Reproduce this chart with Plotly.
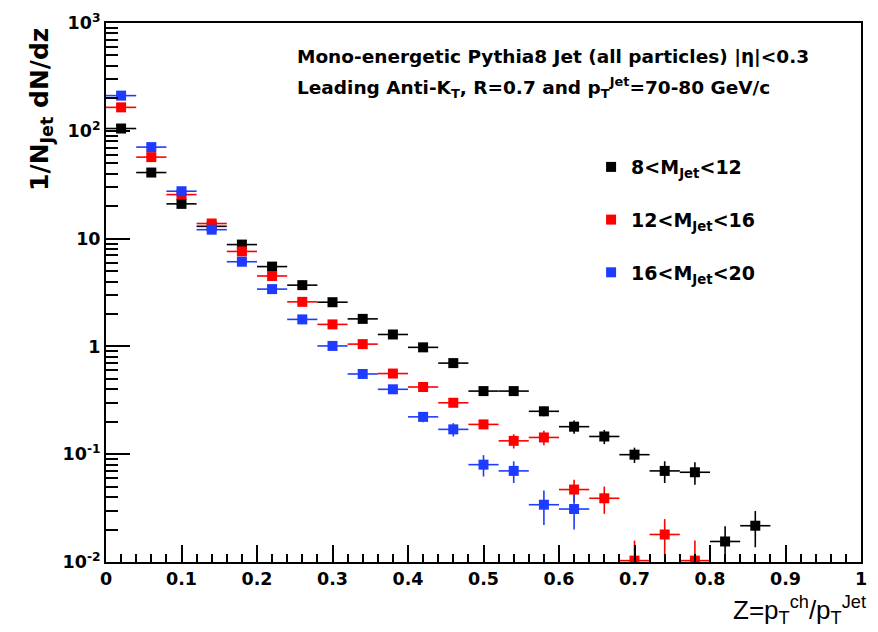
import plotly.graph_objects as go

# Fragmentation function z = pT(ch)/pT(jet), bins of width 0.04 (centres listed)
z_black = [0.02, 0.06, 0.10, 0.14, 0.18, 0.22, 0.26, 0.30, 0.34, 0.38, 0.42,
           0.46, 0.50, 0.54, 0.58, 0.62, 0.66, 0.70, 0.74, 0.78, 0.82, 0.86]
y_black = [105, 41, 21, 13, 8.8, 5.5, 3.7, 2.57, 1.80, 1.29, 0.98,
           0.70, 0.385, 0.385, 0.25, 0.18, 0.146, 0.099, 0.070, 0.068, 0.0155, 0.0217]
e_black = [1.5, 0.9, 0.6, 0.45, 0.3, 0.2, 0.15, 0.1, 0.08, 0.06, 0.05,
           0.04, 0.03, 0.03, 0.025, 0.025, 0.022, 0.016, 0.016, 0.016, 0.006, 0.008]

z_red = [0.02, 0.06, 0.10, 0.14, 0.18, 0.22, 0.26, 0.30, 0.34, 0.38,
         0.42, 0.46, 0.50, 0.54, 0.58, 0.62, 0.66, 0.70, 0.74, 0.78]
y_red = [165, 57, 25.6, 13.8, 7.6, 4.5, 2.59, 1.60, 1.05, 0.56,
         0.42, 0.30, 0.189, 0.133, 0.143, 0.047, 0.039, 0.0103, 0.018, 0.0103]
e_red = [2, 1, 0.6, 0.45, 0.3, 0.2, 0.12, 0.08, 0.05, 0.03,
         0.025, 0.02, 0.015, 0.02, 0.022, 0.011, 0.011, 0.0055, 0.007, 0.0055]

z_blue = [0.02, 0.06, 0.10, 0.14, 0.18, 0.22, 0.26, 0.30,
          0.34, 0.38, 0.42, 0.46, 0.50, 0.54, 0.58, 0.62]
y_blue = [212, 70.6, 27.5, 12.1, 6.1, 3.4, 1.78, 1.01,
          0.555, 0.40, 0.222, 0.17, 0.080, 0.070, 0.034, 0.031]
e_blue = [2.5, 1.2, 0.7, 0.45, 0.3, 0.2, 0.1, 0.06,
          0.04, 0.03, 0.024, 0.024, 0.018, 0.016, 0.012, 0.011]

bin_half_width = 0.02

series = [
    ("8<M<sub>Jet</sub><12", z_black, y_black, e_black, "#000000"),
    ("12<M<sub>Jet</sub><16", z_red, y_red, e_red, "#ff0000"),
    ("16<M<sub>Jet</sub><20", z_blue, y_blue, e_blue, "#1e3cff"),
]

y_tickvals = [0.01, 0.1, 1, 10, 100, 1000]
y_ticktext = ["10<sup>-2</sup>", "10<sup>-1</sup>", "1", "10",
              "10<sup>2</sup>", "10<sup>3</sup>"]
x_tickvals = [0, 0.1, 0.2, 0.3, 0.4, 0.5, 0.6, 0.7, 0.8, 0.9, 1]
x_ticktext = ["0", "0.1", "0.2", "0.3", "0.4", "0.5", "0.6", "0.7", "0.8", "0.9", "1"]

BOLD = "DejaVu Sans"

fig = go.Figure()
for i, (name, zs, ys, es, col) in enumerate(series):
    fig.add_trace(go.Scatter(
        x=zs, y=ys, mode="markers", name=name, legendgroup=f"g{i}",
        marker=dict(symbol="square", size=10, color=col, line=dict(width=0)),
        error_x=dict(type="constant", value=bin_half_width, color=col,
                     thickness=1.6, width=0),
        error_y=dict(type="data", array=es, color=col, thickness=1.6, width=0),
    ))

minor_y = [m * 10 ** d for d in range(-2, 3) for m in range(2, 10)]

fig.update_layout(
    width=878, height=632,
    margin=dict(l=106, r=11, t=17, b=70),
    paper_bgcolor="white", plot_bgcolor="white",
    showlegend=True,
    legend=dict(x=0.6425, y=0.768, xanchor="left", yanchor="top",
                bgcolor="rgba(0,0,0,0)", tracegroupgap=25,
                font=dict(family=BOLD, size=19, color="black", weight="bold")),
    xaxis=dict(range=[0, 1], tickvals=x_tickvals, ticktext=x_ticktext,
               ticks="inside", ticklen=17, tickwidth=1.6, tickcolor="black",
               showline=True, linecolor="black", linewidth=2, mirror=True,
               showgrid=False, zeroline=False,
               tickfont=dict(family=BOLD, size=17.5, color="black", weight="bold"),
               minor=dict(dtick=0.02, ticks="inside", ticklen=8,
                          tickwidth=1.6, tickcolor="black", showgrid=False)),
    yaxis=dict(type="log", range=[-2, 3], tickvals=y_tickvals, ticktext=y_ticktext,
               ticks="inside", ticklen=24, tickwidth=1.6, tickcolor="black",
               showline=True, linecolor="black", linewidth=2, mirror=True,
               showgrid=False, zeroline=False,
               tickfont=dict(family=BOLD, size=17.5, color="black", weight="bold"),
               minor=dict(tickvals=minor_y, ticks="inside", ticklen=12,
                          tickwidth=1.6, tickcolor="black", showgrid=False)),
)

fig.add_annotation(
    xref="paper", yref="paper", x=0.2497, y=0.9384, xanchor="left", yanchor="middle",
    text="Mono-energetic Pythia8 Jet (all particles) |η|<0.3", showarrow=False,
    font=dict(family=BOLD, size=18.5, color="black", weight="bold"))
fig.add_annotation(
    xref="paper", yref="paper", x=0.2497, y=0.8797, xanchor="left", yanchor="middle",
    text="Leading Anti-K<sub>T</sub>, R=0.7 and p<sub>T</sub><sup>Jet</sup>=70-80 GeV/c",
    showarrow=False,
    font=dict(family=BOLD, size=18.5, color="black", weight="bold"))
fig.add_annotation(
    xref="paper", yref="paper", x=-0.0862, y=0.9954, xanchor="center", yanchor="top",
    text="1/N<sub>Jet</sub> dN/dz", textangle=-90, showarrow=False,
    font=dict(family=BOLD, size=25, color="black", weight="bold"))
fig.add_annotation(
    xref="paper", yref="paper", x=1.009, y=-0.089, xanchor="right", yanchor="middle",
    text="Z=p<sub>T</sub><sup>ch</sup>/p<sub>T</sub><sup>Jet</sup>", showarrow=False,
    font=dict(family="Liberation Sans", size=26, color="black"))

fig.write_html("out.html")
